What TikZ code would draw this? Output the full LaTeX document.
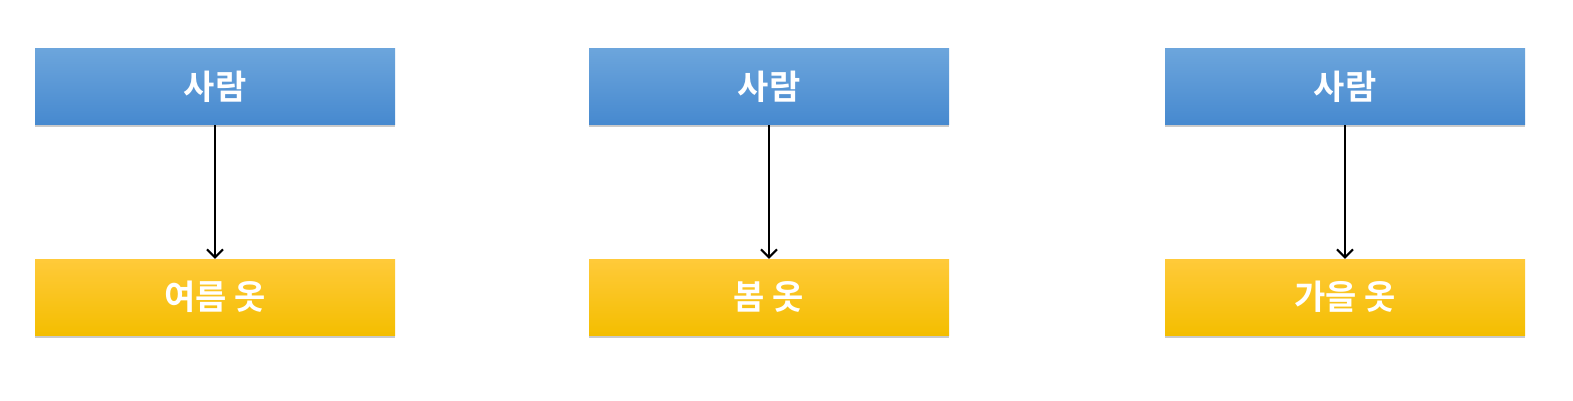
\documentclass[tikz,border=0pt]{standalone}
\usepackage{fontspec}
\newfontfamily\kr{Noto Sans CJK KR}[BoldFont={* Bold}]
\usetikzlibrary{arrows.meta,shadows}
\begin{document}
\begin{tikzpicture}[x=1pt,y=-1pt,
  box/.style={minimum width=360pt,minimum height=76pt,inner sep=0pt,
    text=white,font=\kr\bfseries\fontsize{34}{38}\selectfont,
    drop shadow={shadow xshift=0pt,shadow yshift=-2.5pt,opacity=0.35,fill=black!60}},
  person/.style={box,top color={rgb,255:red,108;green,165;blue,220},bottom color={rgb,255:red,70;green,137;blue,207}},
  cloth/.style={box,top color={rgb,255:red,255;green,202;blue,58},bottom color={rgb,255:red,244;green,190;blue,0}},
  conn/.style={line width=2pt,-{Straight Barb[length=8pt,width=16pt,line width=2pt]}}]
\useasboundingbox (0,0) rectangle (1573,401);
\node[person] (p1) at (215,87) {사람};
\node[person] (p2) at (769,87) {사람};
\node[person] (p3) at (1345,87) {사람};
\node[cloth] (c1) at (215,297) {여름 옷};
\node[cloth] (c2) at (769,297) {봄 옷};
\node[cloth] (c3) at (1345,297) {가을 옷};
\draw[conn] (p1) -- (c1);
\draw[conn] (p2) -- (c2);
\draw[conn] (p3) -- (c3);
\end{tikzpicture}
\end{document}
